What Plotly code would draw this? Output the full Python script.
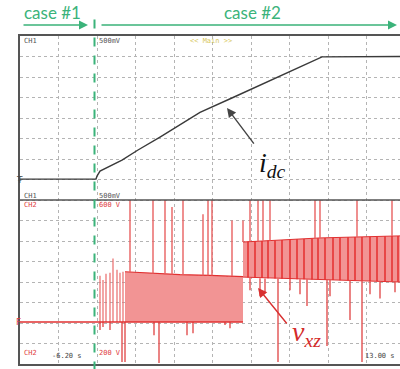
import plotly.graph_objects as go

# ---- data (time in ms from the left edge of the screen; vertical in screen divisions) ----
idc_t = [0, 760, 770, 800, 1020, 1180, 1400, 1600, 1800, 2130, 2470, 2800, 3020, 3800]
idc_v = [9.02, 9.02, 9.17, 9.41, 9.95, 10.44, 11.07, 11.68, 12.27, 13.0, 13.76, 14.49, 14.98, 15.0]

vxz_ground_t = [0, 2230]
vxz_ground_v = [2.05, 2.05]

bandA_t = [1050, 1300, 1600, 1900, 2230]
bandA_lo = [2.05, 2.05, 2.05, 2.05, 2.05]
bandA_hi = [4.5, 4.42, 4.36, 4.32, 4.26]

bandB_t = [2230, 2600, 3000, 3400, 3800]
bandB_lo = [4.24, 4.18, 4.12, 4.06, 4.0]
bandB_hi = [5.95, 6.05, 6.15, 6.2, 6.25]

stripA_t = [1120, 1160, 1200, 1240, 1295, 1350, 1380, 1435, 1500, 1570, 1620, 1680,
            1730, 1770, 1810, 1850, 1900, 1940, 1980, 2020, 2070, 2120, 2170, 2210]
stripA_w = [30, 15, 20, 15, 55, 15, 15, 75, 15, 65, 15, 45, 15, 20, 15, 25, 15, 20,
            15, 20, 15, 20, 15, 15]
stripA_lo = [2.05] * 24
stripA_hi = [4.45, 4.44, 4.42, 4.41, 4.4, 4.39, 4.39, 4.38, 4.37, 4.36, 4.36, 4.35,
             4.35, 4.34, 4.34, 4.33, 4.33, 4.32, 4.31, 4.3, 4.3, 4.28, 4.27, 4.27]

hatchB_t = [2280, 2350, 2420, 2480, 2550, 2620, 2700, 2770, 2840, 2920, 2980,
            3050, 3130, 3200, 3280, 3350, 3420, 3500, 3570, 3650, 3720, 3780]
hatchB_lo = [4.22, 4.2, 4.19, 4.18, 4.17, 4.16, 4.15, 4.14, 4.13, 4.12, 4.12,
             4.11, 4.1, 4.09, 4.08, 4.07, 4.06, 4.05, 4.04, 4.03, 4.02, 4.01]
hatchB_hi = [5.97, 5.99, 6.0, 6.02, 6.03, 6.05, 6.07, 6.08, 6.1, 6.12, 6.14,
             6.15, 6.16, 6.17, 6.18, 6.19, 6.2, 6.21, 6.22, 6.23, 6.24, 6.24]

sparse_t = [800, 830, 860, 900, 930, 970, 1000, 1030]
sparse_top = [4.3, 4.1, 4.4, 4.45, 5.15, 4.6, 4.45, 4.5]

spike_up_t = [1100, 1330, 1450, 1520, 1630, 1830, 1880, 1920, 2120,
              2230, 2300, 2380, 2430, 2500, 2950, 3000, 3370, 3720]
spike_up_base = [4.45, 4.41, 4.38, 4.37, 4.35, 4.33, 4.32, 4.32, 4.28,
                 5.95, 5.97, 6.0, 6.01, 6.02, 6.14, 6.15, 6.2, 6.24]
spike_up_top = [8.0, 8.0, 8.0, 7.66, 8.0, 7.3, 8.0, 8.0, 7.0,
                7.0, 8.0, 8.0, 8.0, 8.0, 8.0, 8.0, 8.0, 8.0]

spike_dn_t = [800, 830, 900, 1020, 1050, 1340, 1390, 1670, 1730, 2050, 2100,
              2300, 2400, 2450, 2580, 2700, 2800, 2870, 3070, 3100, 3300, 3420, 3500, 3600, 3750]
spike_dn_base = [2.05] * 11 + [4.2, 4.18, 4.17, 4.16, 4.15, 4.14, 4.13, 4.11, 4.1,
                               4.07, 4.06, 4.05, 4.04, 4.01]
spike_dn_bottom = [1.66, 1.8, 1.66, 0.1, 0.1, 1.4, 0.05, 1.4, 1.5, 1.9, 1.75,
                   3.6, 3.3, 3.5, 0.1, 3.6, 3.4, 2.83, 0.88, 3.3, 2.15, 0.1, 3.4, 3.2, 3.5]

GREEN = "#3bb37a"
RED = "#e03030"
PINK = "#f29494"


def segs(xs, y0s, y1s):
    X, Y = [], []
    for x, a, b in zip(xs, y0s, y1s):
        X += [x, x, None]
        Y += [a, b, None]
    return X, Y


fig = go.Figure()

fig.add_trace(go.Scatter(x=bandA_t, y=bandA_lo, mode="lines", line=dict(width=0), showlegend=False))
fig.add_trace(go.Scatter(x=bandA_t, y=bandA_hi, mode="lines", fill="tonexty", fillcolor=PINK,
                         line=dict(color=RED, width=1.2), showlegend=False))
fig.add_trace(go.Scatter(x=bandB_t, y=bandB_lo, mode="lines", line=dict(color=RED, width=1), showlegend=False))
fig.add_trace(go.Scatter(x=bandB_t, y=bandB_hi, mode="lines", fill="tonexty", fillcolor=PINK,
                         line=dict(color=RED, width=1), showlegend=False))

fig.add_trace(go.Bar(x=stripA_t, y=[h - l for h, l in zip(stripA_hi, stripA_lo)], base=stripA_lo,
                     width=stripA_w, marker=dict(color="#e32222", line=dict(width=0)), showlegend=False))
hx, hy = segs(hatchB_t, hatchB_lo, hatchB_hi)
fig.add_trace(go.Scatter(x=hx, y=hy, mode="lines", line=dict(color="#e42e2e", width=1.5), showlegend=False))
sx, sy = segs(sparse_t, [2.05] * len(sparse_t), sparse_top)
fig.add_trace(go.Scatter(x=sx, y=sy, mode="lines", line=dict(color="#ea6a6a", width=1.2), showlegend=False))
ux, uy = segs(spike_up_t, spike_up_base, spike_up_top)
fig.add_trace(go.Scatter(x=ux, y=uy, mode="lines", line=dict(color="#e86060", width=1.4), showlegend=False))
dx, dy = segs(spike_dn_t, spike_dn_base, spike_dn_bottom)
fig.add_trace(go.Scatter(x=dx, y=dy, mode="lines", line=dict(color="#e25050", width=1.4), showlegend=False))
fig.add_trace(go.Scatter(x=vxz_ground_t, y=vxz_ground_v, mode="lines", line=dict(color=RED, width=1.4), showlegend=False))
fig.add_trace(go.Scatter(x=idc_t, y=idc_v, mode="lines", line=dict(color="#3a3a3a", width=1.4), showlegend=False))

axis_common = dict(showticklabels=False, ticks="", showgrid=True, griddash="dot",
                   gridcolor="#b4b4b4", gridwidth=1, zeroline=False, showline=True,
                   linecolor="#555555", linewidth=2)
fig.update_xaxes(range=[0, 3800], tick0=0, dtick=385, mirror=True, **axis_common)
fig.update_yaxes(range=[0, 16], tick0=0, dtick=1, mirror=False, **axis_common)

shapes = [
    dict(type="line", xref="paper", yref="y", x0=0, x1=1, y0=8, y1=8,
         line=dict(color="#555555", width=1.6), layer="above"),
    dict(type="line", xref="x", yref="paper", x0=745, x1=745, y0=-0.02, y1=1.05,
         line=dict(color=GREEN, width=2, dash="dash"), layer="above"),
]

small = dict(family="DejaVu Sans Mono", size=7)
Y_ARROW = 1.0335
ann = [
    dict(x=680, y=Y_ARROW, ax=-66, ay=0, xref="x", yref="paper", axref="pixel", ayref="pixel", text="",
         showarrow=True, arrowhead=2, arrowsize=1.2, arrowwidth=1.5, arrowcolor=GREEN),
    dict(x=3770, y=Y_ARROW, ax=-297, ay=0, xref="x", yref="paper", axref="pixel", ayref="pixel", text="",
         showarrow=True, arrowhead=2, arrowsize=1.2, arrowwidth=1.5, arrowcolor=GREEN),
    dict(x=320, y=1.073, xref="x", yref="paper", yanchor="middle", text="case #1", showarrow=False,
         font=dict(family="Lato", size=17, color=GREEN)),
    dict(x=2320, y=1.073, xref="x", yref="paper", yanchor="middle", text="case #2", showarrow=False,
         font=dict(family="Lato", size=17, color=GREEN)),
    dict(x=2070, y=12.49, ax=2350, ay=10.68, xref="x", yref="y", axref="x", ayref="y", text="",
         showarrow=True, arrowhead=2, arrowsize=1.3, arrowwidth=1.4, arrowcolor="#444444"),
    dict(x=2370, y=9.75, xref="x", yref="y", xanchor="left", text="<i>i</i><sub><i>dc</i></sub>",
         showarrow=False, font=dict(family="Liberation Serif", size=28, color="#111111")),
    dict(x=2380, y=3.71, ax=2680, ay=1.9, xref="x", yref="y", axref="x", ayref="y", text="",
         showarrow=True, arrowhead=2, arrowsize=1.3, arrowwidth=1.4, arrowcolor="#d83030"),
    dict(x=2700, y=1.5, xref="x", yref="y", xanchor="left", text="<i>v</i><sub><i>xz</i></sub>",
         showarrow=False, font=dict(family="Liberation Serif", size=28, color="#d42a2a")),
    dict(x=20, y=15.76, xref="x", yref="y", xanchor="left", text="CH1", showarrow=False,
         font=dict(color="#555555", **small)),
    dict(x=770, y=15.76, xref="x", yref="y", xanchor="left", text="500mV", showarrow=False,
         font=dict(color="#555555", **small)),
    dict(x=1680, y=15.76, xref="x", yref="y", xanchor="left", text="&lt;&lt; Main &gt;&gt;", showarrow=False,
         font=dict(color="#d8c860", **small)),
    dict(x=20, y=8.2, xref="x", yref="y", xanchor="left", text="CH1", showarrow=False,
         font=dict(color="#555555", **small)),
    dict(x=770, y=8.2, xref="x", yref="y", xanchor="left", text="500mV", showarrow=False,
         font=dict(color="#555555", **small)),
    dict(x=20, y=7.78, xref="x", yref="y", xanchor="left", text="CH2", showarrow=False,
         font=dict(color="#e04040", **small)),
    dict(x=770, y=7.78, xref="x", yref="y", xanchor="left", text="600 V", showarrow=False,
         font=dict(color="#e04040", **small)),
    dict(x=20, y=0.55, xref="x", yref="y", xanchor="left", text="CH2", showarrow=False,
         font=dict(color="#e04040", **small)),
    dict(x=770, y=0.55, xref="x", yref="y", xanchor="left", text="200 V", showarrow=False,
         font=dict(color="#e04040", **small)),
    dict(x=300, y=0.1, xref="x", yref="y", xanchor="left", yanchor="bottom", text="-6.20 s", showarrow=False,
         font=dict(color="#444444", **small)),
    dict(x=3770, y=0.1, xref="x", yref="y", xanchor="right", yanchor="bottom", text="13.00 s", showarrow=False,
         font=dict(color="#444444", **small)),
    dict(x=-0.016, y=9.0, xref="paper", yref="y", text="Ŧ", showarrow=False,
         font=dict(family="DejaVu Sans", size=9, color="#444444")),
    dict(x=-0.016, y=2.05, xref="paper", yref="y", text="F", showarrow=False,
         font=dict(family="DejaVu Sans", size=9, color="#e04040")),
]

fig.update_layout(width=400, height=369, margin=dict(l=20, r=0, t=36, b=5),
                  paper_bgcolor="white", plot_bgcolor="white", barmode="overlay",
                  bargap=0, shapes=shapes, annotations=ann, showlegend=False)

# remove the default page margin so the figure sits at the window's top-left corner
fig.write_html("out.html", config={"displayModeBar": False},
               post_script="document.body.style.margin='0px';")
